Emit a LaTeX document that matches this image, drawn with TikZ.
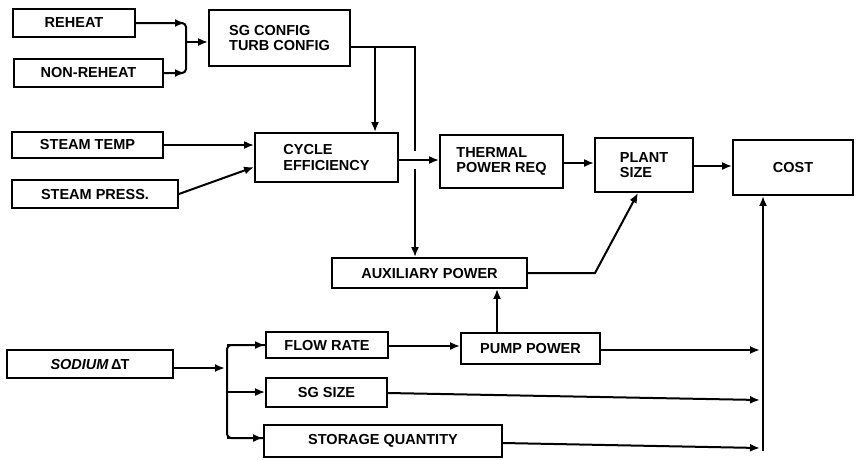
\documentclass[tikz,border=0pt]{standalone}
\usepackage{fontspec}
\setmainfont{Liberation Sans}
\usetikzlibrary{arrows.meta}
\begin{document}
\begin{tikzpicture}[x=1pt,y=-1pt,
  box/.style={draw,line width=1.8pt,inner sep=0pt,align=center,
    font=\fontsize{14.5}{15.5}\selectfont\bfseries},
  conn/.style={line width=2pt},
  arr/.style={conn,-{Latex[length=10pt,width=8pt]}}]
\useasboundingbox (0,0) rectangle (858,459);
% boxes
\node[box,minimum width=122,minimum height=28] (reheat) at (74,23) {REHEAT};
\node[box,minimum width=149,minimum height=28] (nonreheat) at (88.5,73) {NON-REHEAT};
\node[box,minimum width=141,minimum height=56,align=left] (sg) at (279.5,38) {SG CONFIG\\TURB CONFIG};
\node[box,minimum width=143,minimum height=49,align=left] (cycle) at (326.5,157.5) {CYCLE\\EFFICIENCY};
\node[box,minimum width=151,minimum height=26] (stemp) at (87.5,145) {STEAM TEMP};
\node[box,minimum width=166,minimum height=28] (spress) at (95,194) {STEAM PRESS.};
\node[box,minimum width=123,minimum height=53,align=left] (thermal) at (501.5,161.5) {THERMAL\\POWER REQ};
\node[box,minimum width=98,minimum height=54,align=left] (plant) at (644,165) {PLANT\\SIZE};
\node[box,minimum width=120,minimum height=55] (cost) at (793,167.5) {COST};
\node[box,minimum width=195,minimum height=30] (aux) at (429.5,273) {AUXILIARY POWER};
\node[box,minimum width=139,minimum height=31] (pump) at (530.5,348.5) {PUMP POWER};
\node[box,minimum width=122,minimum height=26] (flow) at (327,345) {FLOW RATE};
\node[box,minimum width=121,minimum height=29] (sgsize) at (326.5,392.5) {SG SIZE};
\node[box,minimum width=238,minimum height=32] (storage) at (383,441) {STORAGE QUANTITY};
\node[box,minimum width=166,minimum height=28] (sodium) at (90,364) {\textit{SODIUM}\,Δ\kern-1ptT};
% coordinates
\coordinate (rbT) at (186,23);
\coordinate (rbB) at (186,73);
\coordinate (rbM) at (186,42);
\coordinate (sgR) at (415,47);
\coordinate (sgB) at (375,47);
\coordinate (gapA) at (415,151);
\coordinate (gapB) at (415,169);
\coordinate (auxK) at (595,273);
\coordinate (colP) at (761,350);
\coordinate (colS) at (761,400);
\coordinate (colQ) at (761,448);
\coordinate (colBot) at (763,451);
\coordinate (naA) at (227,368);
\coordinate (naT) at (227,345);
\coordinate (naM) at (227,392);
\coordinate (naB) at (227,438);
% reheat bracket
\draw[conn,rounded corners=4pt] (reheat.east) -- (rbT) -- (rbB) -- (nonreheat.east);
\draw[arr] (reheat.east) -- ([xshift=-1pt]rbT);
\draw[arr] (nonreheat.east) -- ([xshift=-1pt]rbB);
\draw[arr] (rbM) -- (sg.west |- rbM);
% SG config outputs
\draw[conn] (sg.east |- sgR) -- (sgR) -- (gapA);
\draw[arr] (gapB) -- (aux.north -| gapB);
\draw[arr] (sgB) -- (cycle.north -| sgB);
% steam inputs
\draw[arr] (stemp.east) -- (cycle.west |- stemp.east);
\draw[arr] (spress.east) -- (cycle.west |- 0,167);
% main chain
\draw[arr] (cycle.east |- 0,160) -- (thermal.west |- 0,160);
\draw[arr] (thermal.east |- 0,163) -- (plant.west |- 0,163);
\draw[arr] (plant.east |- 0,166) -- (cost.west |- 0,166);
% auxiliary
\draw[arr] (aux.east) -- (auxK) -- ([xshift=-6pt]plant.south);
\draw[arr] (pump.north -| 497,0) -- (aux.south -| 497,0);
% sodium
\draw[arr] (sodium.east |- naA) -- ([xshift=-2pt]naA);
\draw[conn,rounded corners=4pt] (flow.west |- naT) -- (naT) -- (naB) -- (storage.west |- naB);
\draw[arr] (naT) -- (flow.west |- naT);
\draw[arr] (naM) -- (sgsize.west |- naM);
\draw[arr] (naB) -- (storage.west |- naB);
\draw[arr] (flow.east |- 0,346) -- (pump.west |- 0,346);
% to cost
\draw[arr] (pump.east |- 0,350) -- ([xshift=-1pt]colP);
\draw[arr] (sgsize.east |- 0,393) -- ([xshift=-1pt]colS);
\draw[arr] (storage.east |- 0,443) -- ([xshift=-1pt]colQ);
\draw[arr] (colBot) -- (cost.south -| colBot);
\end{tikzpicture}
\end{document}
